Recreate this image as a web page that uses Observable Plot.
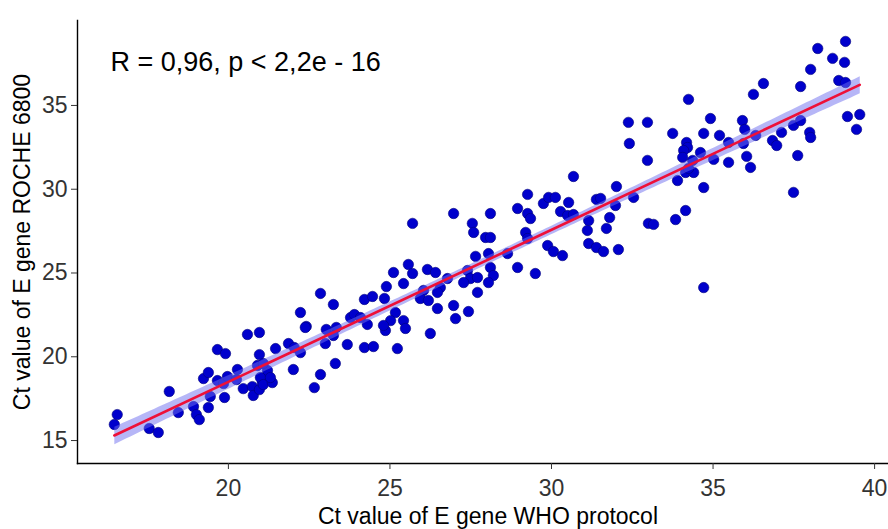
<!DOCTYPE html>
<html>
<head>
<meta charset="utf-8">
<script src="https://cdn.jsdelivr.net/npm/d3@7"></script>
<script src="https://cdn.jsdelivr.net/npm/@observablehq/plot@0.6"></script>
<style>
  html, body { margin: 0; padding: 0; background: #fff; }
  #chart svg { display: block; }
</style>
</head>
<body>
<div id="chart"></div>
<script>
// Ct values, WHO protocol (x)
const whoCt = [
  16.47,16.56,17.55,17.83,18.17,18.45,18.92,19.01,19.10,19.38,
  19.44,19.23,19.38,19.66,19.91,19.66,19.85,19.97,19.88,20.28,
  20.25,20.59,20.96,20.96,20.46,20.74,20.77,20.96,21.05,20.90,
  21.15,21.21,21.08,20.99,21.08,21.36,21.30,21.46,21.86,22.04,
  22.23,22.01,22.41,22.23,22.38,22.85,23.25,23.03,23.34,23.25,
  23.31,22.85,22.66,23.00,23.68,24.21,24.49,25.23,24.21,24.46,
  24.83,23.78,23.90,24.09,24.30,25.17,24.86,25.11,24.89,25.02,
  25.42,25.48,24.80,25.42,25.57,25.70,26.16,26.41,26.78,25.70,
  26.04,25.94,26.19,26.47,26.97,27.43,27.03,26.25,26.56,26.47,
  26.97,27.40,27.49,27.71,27.28,27.55,27.59,27.96,28.11,28.11,
  28.64,28.95,27.65,28.05,28.11,28.20,28.05,27.71,28.95,29.26,
  29.75,29.91,30.12,29.26,29.35,29.20,29.26,29.88,29.50,30.68,
  32.01,30.53,31.39,31.52,31.98,32.54,30.28,30.50,30.68,31.80,
  31.15,31.11,31.70,30.06,30.34,31.15,31.39,31.61,32.07,33.00,
  32.38,32.97,32.41,33.75,32.97,34.15,34.40,33.90,34.71,34.15,
  33.84,33.16,34.71,34.24,34.18,34.21,34.09,34.61,34.06,34.37,
  34.24,34.92,34.71,35.20,35.48,35.02,35.48,35.91,35.98,36.32,
  35.94,36.04,36.16,36.56,36.25,36.84,36.97,37.12,37.49,37.71,
  37.71,38.02,38.24,37.62,37.49,37.99,38.02,39.10,38.70,39.07,
  38.89,39.10,39.16,39.54,39.44
];
// Ct values, ROCHE 6800 (y)
const rocheCt = [
  15.96,16.55,15.72,15.48,17.93,16.67,17.03,16.55,16.25,16.97,
  17.63,18.70,19.06,20.43,20.19,18.58,18.40,18.82,17.57,19.24,
  18.64,21.33,21.45,20.13,18.10,18.22,17.69,18.04,18.46,19.48,
  18.70,19.18,19.60,18.76,18.34,18.46,18.76,20.49,20.79,20.55,
  20.25,19.24,21.81,22.64,21.75,23.78,23.12,21.63,21.75,21.27,
  19.60,18.94,18.16,20.79,20.73,20.55,20.61,20.49,23.42,23.60,
  23.48,22.34,22.52,22.34,21.93,22.64,21.57,25.03,24.19,22.16,
  22.16,21.69,21.87,24.37,25.51,24.97,25.21,25.03,24.67,27.96,
  23.96,23.48,23.36,22.88,23.06,22.70,22.28,21.39,24.13,23.84,
  28.55,25.15,24.67,24.73,24.43,27.96,27.42,27.12,27.12,28.55,
  26.16,25.33,25.99,26.16,25.33,24.85,24.43,23.84,28.85,29.69,
  29.15,29.51,29.51,28.55,28.25,27.42,27.06,26.64,24.97,30.76,
  30.16,29.21,29.39,29.45,29.03,29.51,28.67,28.43,28.49,28.31,
  28.13,27.54,27.66,26.28,26.04,26.76,26.52,26.28,26.40,27.96,
  33.99,33.99,32.73,33.33,31.72,31.00,31.00,30.52,30.10,28.73,
  28.19,27.90,24.13,35.36,32.79,32.49,32.31,32.19,31.90,31.72,
  31.24,34.22,33.33,33.21,32.79,31.78,31.60,34.10,33.57,33.21,
  32.73,31.96,31.30,36.31,35.66,32.91,32.61,33.39,33.81,34.10,
  36.13,37.15,38.40,32.01,29.81,33.39,33.09,38.82,37.81,37.57,
  36.49,36.37,34.34,34.46,33.57
];
const xTicks = [20, 25, 30, 35, 40];
const yTicks = [15, 20, 25, 30, 35];
const xTitle = ["Ct value of E gene WHO protocol"];
const yTitle = ["Ct value of E gene ROCHE 6800"];
const annotation = ["R = 0,96, p < 2,2e - 16"];

const pts = whoCt.map((x, i) => ({x, y: rocheCt[i]}));
const font = "'Liberation Sans', Arial, Helvetica, sans-serif";

const chart = Plot.plot({
  width: 888,
  height: 529,
  marginLeft: 77,
  marginRight: 0,
  marginTop: 20,
  marginBottom: 66,
  style: {fontFamily: font, background: "#fff", overflow: "visible"},
  x: {domain: [15.33, 40.43]},
  y: {domain: [13.63, 40.07]},
  marks: [
    Plot.dot(pts, {x: "x", y: "y", r: 5.2, fill: "#0000cc", stroke: "#00007a", strokeWidth: 0.6}),
    Plot.linearRegressionY(pts, {x: "x", y: "y", stroke: "#ee1038", strokeWidth: 2.6, fill: "#6e6ef0", fillOpacity: 0.5}),
    Plot.frame({anchor: "left", stroke: "#000", strokeWidth: 1.4}),
    Plot.frame({anchor: "bottom", stroke: "#000", strokeWidth: 1.4}),
    Plot.axisX({ticks: xTicks, tickSize: 6, tickPadding: 10, fontSize: 23, color: "#333", label: null}),
    Plot.axisY({ticks: yTicks, tickSize: 6, tickPadding: 4, fontSize: 23, color: "#333", label: null}),
    Plot.text(annotation, {text: d => d, frameAnchor: "top-left", dx: 33, dy: 42, textAnchor: "start", lineAnchor: "middle", fontSize: 27, fill: "#000"}),
    Plot.text(xTitle, {text: d => d, frameAnchor: "bottom", dx: 5, dy: 53, textAnchor: "middle", lineAnchor: "middle", fontSize: 23, fill: "#000"}),
    Plot.text(yTitle, {text: d => d, frameAnchor: "left", dx: -55, rotate: -90, textAnchor: "middle", lineAnchor: "middle", fontSize: 23, fill: "#000"})
  ]
});
document.getElementById("chart").appendChild(chart);
</script>
</body>
</html>
